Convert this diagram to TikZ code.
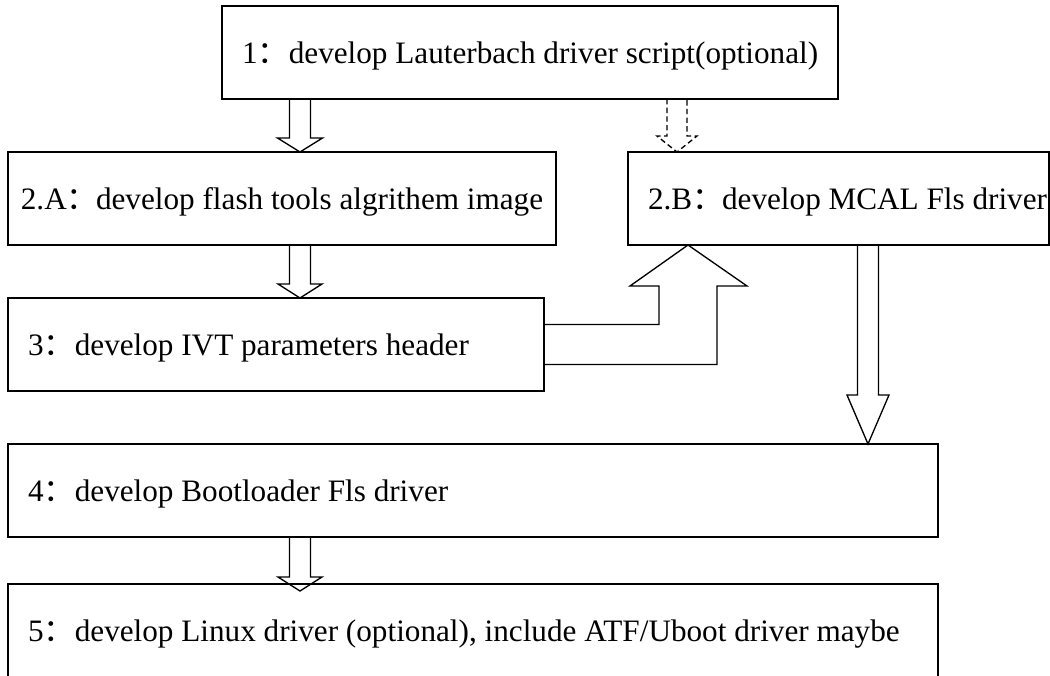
\documentclass[tikz,border=0pt]{standalone}
\usepackage{fontspec}
\setmainfont{Liberation Serif}
\newfontfamily\cjkfont{Noto Sans CJK SC}
\usetikzlibrary{calc}
% full-width colon used after each step number
\newcommand\fwc{{\cjkfont ：}}
% left-aligned line of given width
\newcommand\lline[2]{\makebox[#1][l]{#2}}
% hollow downward block arrow: [style] start, tip, shaft half width, head half width, head length
\newcommand\blockdown[6][]{%
  \draw[blockarrow,#1] ($(#2)+(-#4,0)$) -- ($(#3)+(-#4,-#6)$) -- ($(#3)+(-#5,-#6)$) -- (#3)
    -- ($(#3)+(#5,-#6)$) -- ($(#3)+(#4,-#6)$) -- ($(#2)+(#4,0)$);}
\begin{document}
\begin{tikzpicture}[x=0.75pt,y=-0.75pt,
  stepbox/.style={draw, line width=1.35pt, rectangle, outer sep=0pt, inner xsep=15pt, inner ysep=0pt,
    minimum height=69.75pt, text height=18pt, text depth=2.25pt, anchor=north west,
    font=\fontsize{23.4}{27}\selectfont},
  blockarrow/.style={draw, line width=1pt, line join=miter},
  dashedarrow/.style={dash pattern=on 4pt off 2.5pt},
]
\useasboundingbox (0,0) rectangle (1050,675);

% steps
\node[stepbox, minimum width=462pt] (b1) at (222,6) {1\fwc develop Lauterbach driver script(optional)};
\node[stepbox, minimum width=411pt, inner xsep=6pt] (b2a) at (8,152) {2.A\fwc\kern-1.5pt develop flash tools algrithem image};
\node[stepbox] (b2b) at (628,152) {\lline{285.75pt}{2.B\fwc\kern-1pt develop MCAL Fls driver}};
\node[stepbox] (b3) at (8,298) {\lline{372pt}{3\fwc develop IVT parameters header}};
\node[stepbox] (b4) at (8,444) {\lline{667.5pt}{4\fwc develop Bootloader Fls driver}};
\node[stepbox] (b5) at (8,584) {\lline{667.5pt}{5\fwc develop Linux driver (optional), include ATF/Uboot driver maybe}};

% arrow anchor points
\coordinate (a1s) at (b1.south -| 300,0);
\coordinate (a1t) at (b2a.north -| 300,0);
\coordinate (a2s) at (b2a.south -| 300,0);
\coordinate (a2t) at (b3.north -| 300,0);
\coordinate (a4s) at (b4.south -| 300,0);
\coordinate (a4t) at ($(b5.north -| 300,0)+(0,7)$);
\coordinate (ads) at (b1.south -| 677,0);
\coordinate (adt) at (b2b.north -| 677,0);
\coordinate (abs) at (b2b.south -| 868,0);
\coordinate (abt) at (b4.north -| 868,0);
\coordinate (tb) at (b2b.south -| 688,0);

% straight block arrows
\blockdown{a1s}{a1t}{10.5}{22.5}{14}
\blockdown{a2s}{a2t}{10.5}{22}{14}
\blockdown{a4s}{a4t}{10.5}{22}{14}
\blockdown[dashedarrow]{ads}{adt}{10}{20}{16}
\blockdown{abs}{abt}{10.5}{21}{49}

% bent block arrow from step 3 up to step 2.B
\draw[blockarrow] let \p1=(b3.east), \p2=(tb) in
  (\x1,\y1+15pt) -- (\x2-21.75pt,\y1+15pt) -- (\x2-21.75pt,\y2-30.75pt) -- (\x2-43.5pt,\y2-30.75pt)
  -- (\p2) -- (\x2+44.25pt,\y2-30.75pt) -- (\x2+21.75pt,\y2-30.75pt) -- (\x2+21.75pt,\y1-15pt)
  -- (\x1,\y1-15pt);
\end{tikzpicture}
\end{document}
